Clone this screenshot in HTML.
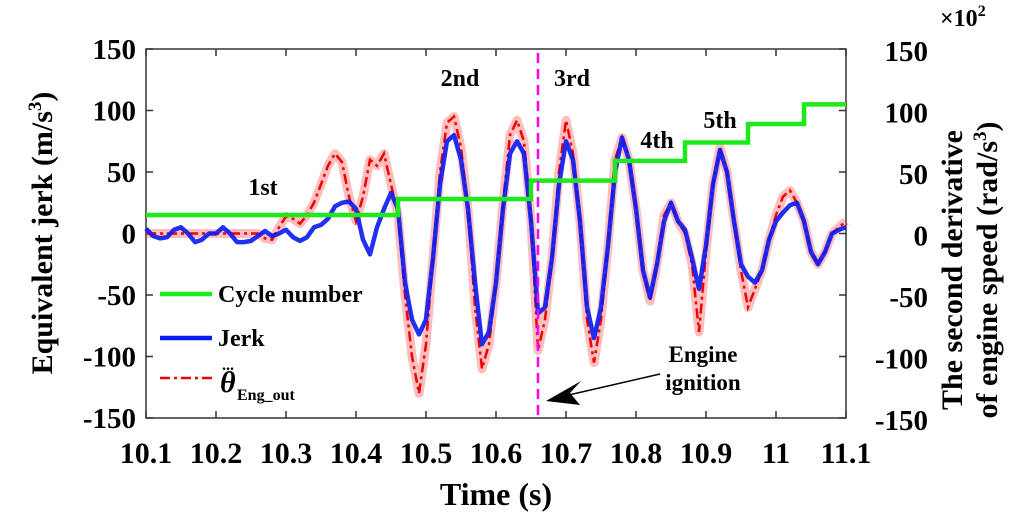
<!DOCTYPE html>
<html><head><meta charset="utf-8"><style>
body{margin:0;background:#fff;width:1028px;height:527px;overflow:hidden}
svg text{font-family:"Liberation Serif","DejaVu Serif",serif;font-weight:bold;fill:#000}
</style></head><body>
<svg id="c" width="1028" height="527" font-family="Liberation Serif, DejaVu Serif, serif"></svg>
<script>
const times=[];for(let i=0;i<=100;i++)times.push(10.1+i*0.01);
const jerk=[4,-2,-4,-3,3,5,0,-7,-5,0,0,5,0,-7,-7,-6,-2,2,-2,0,3,-3,-6,-3,5,7,12,22,25,26,20,-5,-17,5,20,33,20,-40,-70,-82,-70,-20,40,75,80,60,20,-40,-90,-80,-40,20,65,75,65,10,-65,-60,-20,40,75,60,10,-60,-85,-60,-10,50,78,60,20,-30,-52,-25,10,25,10,3,-20,-45,-10,40,68,50,10,-25,-35,-40,-30,-5,10,17,23,25,10,-15,-25,-15,0,3,5];
const theta=[0,0,0,0,0,0,0,0,0,0,0,0,0,0,0,0,0,-4,-5,5,14,12,8,15,25,40,55,65,58,30,10,30,60,55,65,40,15,-50,-100,-130,-90,-20,50,90,95,70,20,-60,-110,-90,-40,25,80,92,75,10,-95,-70,-20,50,92,65,10,-70,-105,-70,-10,60,78,60,20,-30,-55,-25,15,25,10,0,-25,-80,-15,40,70,50,10,-30,-60,-45,-30,-5,15,30,35,25,10,-15,-25,-15,0,5,10];
const cycleT=[10.1,10.46,10.65,10.77,10.87,10.96,11.04,11.1];
const cycleV=[15,28,43,59,74,89,105];
const xTicks=[10.1,10.2,10.3,10.4,10.5,10.6,10.7,10.8,10.9,11,11.1];
const yTicks=[150,100,50,0,-50,-100,-150];
const ignition=10.66;
const NS='http://www.w3.org/2000/svg',svg=document.getElementById('c');
const X0=146,X1=846,Y0=49,Y1=418;
const sx=t=>X0+(t-10.1)/1.0*(X1-X0), sy=v=>Y0+(150-v)/300*(Y1-Y0);
function el(tag,a,txt){const e=document.createElementNS(NS,tag);for(const k in a)e.setAttribute(k,a[k]);if(tag==='text'){e.setAttribute('font-family','Liberation Serif, DejaVu Serif, serif');}if(txt!==undefined)e.textContent=txt;svg.appendChild(e);return e;}
let b=el('rect',{x:X0,y:Y0,width:X1-X0,height:Y1-Y0,fill:'none',stroke:'#333','stroke-width':1.5});

xTicks.forEach(t=>{
 let l=el('line',{x1:sx(t),x2:sx(t),y1:Y1,y2:Y1-7,stroke:'#333','stroke-width':1.5});
 
 let l2=el('line',{x1:sx(t),x2:sx(t),y1:Y0,y2:Y0+7,stroke:'#333','stroke-width':1.5});
 
 let tx=el('text',{x:sx(t),y:463,'font-size':30,'text-anchor':'middle'},String(t));
 
});
yTicks.forEach(v=>{
 let l=el('line',{x1:X0,x2:X0+7,y1:sy(v),y2:sy(v),stroke:'#333','stroke-width':1.5});
 
 let l2=el('line',{x1:X1,x2:X1-7,y1:sy(v),y2:sy(v),stroke:'#333','stroke-width':1.5});
 
 let tx=el('text',{x:136,y:sy(v)+10,'font-size':29,'text-anchor':'end'},String(v));
 
 let tr=el('text',{x:928,y:sy(v)+12,'font-size':29,'text-anchor':'end'},String(v));
 
});
const pts=arr=>arr.map((v,i)=>sx(times[i]).toFixed(1)+','+sy(v).toFixed(1)).join(' ');
let band=el('polyline',{points:pts(theta),fill:'none',stroke:'#f44','stroke-width':9,opacity:0.35,'stroke-linejoin':'round'});

let red=el('polyline',{points:pts(theta),fill:'none',stroke:'#e00','stroke-width':2.5,'stroke-dasharray':'10,4,3,4'});

let blue=el('polyline',{points:pts(jerk),fill:'none',stroke:'#0a1bf0','stroke-width':4.5,'stroke-linejoin':'round',opacity:0.9});

let d='';cycleV.forEach((v,i)=>{d+=(i?' L':'M')+sx(cycleT[i])+','+sy(v)+' L'+sx(cycleT[i+1])+','+sy(v);});
let g=el('path',{d:d,fill:'none',stroke:'#1de91d','stroke-width':4.5});

let ig=el('line',{x1:sx(ignition),x2:sx(ignition),y1:Y0+4,y2:Y1,stroke:'#f0f','stroke-width':2.5,'stroke-dasharray':'10,6'});

[['1st',263,195],['2nd',460,86],['3rd',572,86],['4th',657,148],['5th',720,128]].forEach(a=>{
 let t=el('text',{x:a[1],y:a[2],'font-size':24,'text-anchor':'middle'},a[0]);
 
});
let t1=el('text',{x:703,y:362,'font-size':23,'text-anchor':'middle'},'Engine');
let t2=el('text',{x:703,y:390,'font-size':23,'text-anchor':'middle'},'ignition');
let al=el('line',{x1:660,y1:374,x2:560,y2:397,stroke:'#000','stroke-width':1.5});
let ah=el('polygon',{points:'546,401 581,381 570,393 580,405',fill:'#000'});
let lg1=el('line',{x1:160,x2:212,y1:294,y2:294,stroke:'#1de91d','stroke-width':4.5});
let lt1=el('text',{x:218,y:302,'font-size':24},'Cycle number');
let lg2=el('line',{x1:160,x2:212,y1:338,y2:338,stroke:'#0a1bf0','stroke-width':4.5});
let lt2=el('text',{x:218,y:346,'font-size':24},'Jerk');
let lg3=el('line',{x1:160,x2:212,y1:378,y2:378,stroke:'#e00','stroke-width':2.5,'stroke-dasharray':'10,4,3,4'});
let lt3=el('text',{x:220,y:392,'font-size':30,'font-style':'italic','font-weight':'normal'},'θ');
let ld=el('text',{x:222,y:370,'font-size':16,'font-weight':'normal'},'...');
let ls=el('text',{x:237,y:400,'font-size':16,'font-weight':'normal'},'Eng_out');
let xt=el('text',{x:496,y:505,'font-size':32,'text-anchor':'middle'},'Time (s)');
let yt=el('text',{x:0,y:0,'font-size':30,'text-anchor':'middle',transform:'translate(52,233) rotate(-90)'});yt.innerHTML='Equivalent jerk (m/s<tspan dy="-11" font-size="19">3</tspan><tspan dy="11">)</tspan>';

let y2a=el('text',{x:0,y:0,'font-size':30,'text-anchor':'middle',transform:'translate(962,270) rotate(-90)'},'The second derivative');
let y2b=el('text',{x:0,y:0,'font-size':30,'text-anchor':'middle',transform:'translate(997,270) rotate(-90)'});y2b.innerHTML='of engine speed (rad/s<tspan dy="-11" font-size="19">3</tspan><tspan dy="11">)</tspan>';

let sc=el('text',{x:940,y:26,'font-size':24,'font-weight':'normal'});sc.innerHTML='×10<tspan dy="-10" font-size="16">2</tspan>';

</script>
</body></html>
